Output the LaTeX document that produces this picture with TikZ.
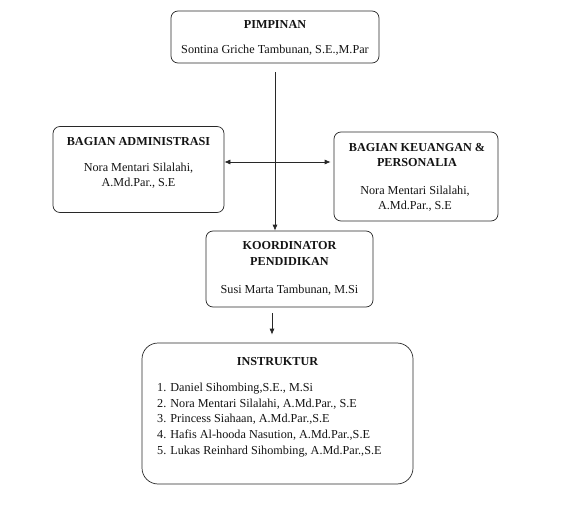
\documentclass[tikz,border=0pt]{standalone}
\usepackage{fontspec}
\setmainfont{Liberation Serif}
\usepackage{tikz}
\usetikzlibrary{arrows.meta, positioning, calc}
\definecolor{orgline}{RGB}{ 40,  40,  40}
\definecolor{orgtext}{RGB}{ 20,  20,  20}

\begin{document}
\begin{tikzpicture}[x=1pt,y=-1pt,
		unitbox/.style={draw=orgline,line width=0.7pt,rounded corners=7pt,inner sep=0pt},
		txt/.style={font=\fontsize{12.2}{15.6}\selectfont,text=orgtext,align=center,inner sep=0pt,anchor=base},
		ttl/.style={txt,font=\fontsize{12.2}{15.6}\selectfont\bfseries},
		arr/.style={draw=orgline,line width=0.7pt,-{Latex[length=6pt,width=5pt]}}
	]
	\useasboundingbox[fill=white] (0,0) rectangle (568,508);
	\node[unitbox,minimum width=208pt,minimum height=52pt] (pimpinan) at (275,37) {};
	\node[unitbox,minimum width=171pt,minimum height=86pt] (admin) at (138.5,169.5) {};
	\node[unitbox,minimum width=164pt,minimum height=89pt] (keuangan) at (416,176.5) {};
	\node[unitbox,minimum width=167pt,minimum height=76pt] (koord) at (289.5,269) {};
	\node[unitbox,minimum width=271pt,minimum height=141pt,rounded corners=16pt] (instruktur) at (277.5,413.5) {};
	\node[ttl] (pimpinanT) at (275,29) {PIMPINAN};
	\node[txt] (pimpinanN) at (275,54) {Sontina Griche Tambunan, S.E.,M.Par};
	\node[ttl] (adminT) at (138.5,146) {BAGIAN ADMINISTRASI};
	\node[txt] (adminN) at (138.5,187) {Nora Mentari Silalahi,\\A.Md.Par., S.E};
	\node[ttl] (keuanganT) at (417,167) {BAGIAN KEUANGAN \&\\PERSONALIA};
	\node[txt] (keuanganN) at (415,210) {Nora Mentari Silalahi,\\A.Md.Par., S.E};
	\node[ttl] (koordT) at (289.5,265) {KOORDINATOR\\PENDIDIKAN};
	\node[txt] (koordN) at (289.5,293) {Susi Marta Tambunan, M.Si};
	\node[ttl] (instrukturT) at (277.5,365) {INSTRUKTUR};
	\node[txt,align=left,anchor=base west] (instrukturN) at (157,454) {1. Daniel Sihombing,S.E., M.Si\\2. Nora Mentari Silalahi, A.Md.Par., S.E\\3. Princess Siahaan, A.Md.Par.,S.E\\4. Hafis Al-hooda Nasution, A.Md.Par.,S.E\\5. Lukas Reinhard Sihombing, A.Md.Par.,S.E};
	\coordinate (hub) at (pimpinan.south |- 0,162);
	\draw[arr,shorten <=9pt] (pimpinan.south) -- (pimpinan.south |- koord.north);
	\draw[arr] (hub) -- (admin.east |- hub);
	\draw[arr,shorten >=3pt] (hub) -- (keuangan.west |- hub);
	\draw[arr,shorten <=6pt,shorten >=8pt] (koord.south -| 272,0) -- (instruktur.north -| 272,0);
\end{tikzpicture}
\end{document}
